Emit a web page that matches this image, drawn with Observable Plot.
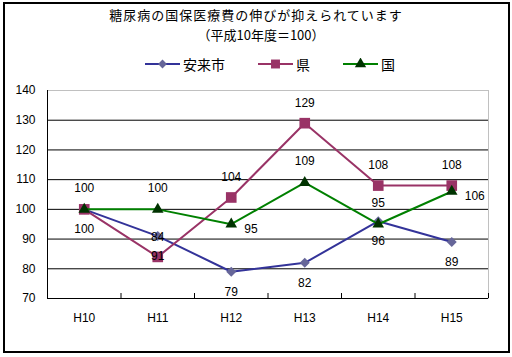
<!DOCTYPE html>
<html><head><meta charset="utf-8">
<script src="https://cdn.jsdelivr.net/npm/d3@7"></script>
<script src="https://cdn.jsdelivr.net/npm/@observablehq/plot@0.6"></script>
<style>
body{margin:0;background:#fff}
#wrap{position:relative;width:512px;height:357px;overflow:hidden;font-family:"Noto Sans CJK JP",sans-serif;color:#000}
#frame{position:absolute;left:3px;top:2px;width:507px;height:351px;border:2px solid #000;box-sizing:border-box;pointer-events:none}
.t{position:absolute;left:0;top:5px;width:512px;text-align:center;font-size:13px;letter-spacing:1px;line-height:19.5px;white-space:nowrap}
.lg{position:absolute;top:57px;height:14px;font-size:14px;line-height:14px;white-space:nowrap}
.sw{position:absolute;top:58px}
#chart{position:absolute;left:0;top:0}
</style></head>
<body>
<div id="wrap">
  <div class="t">糖尿病の国保医療費の伸びが抑えられています<br><span style="padding-left:10px;letter-spacing:0">（平成10年度＝100）</span></div>
  <div id="legend"></div>
  <div id="chart"></div>
  <div id="frame"></div>
</div>
<script>
const years = ["H10", "H11", "H12", "H13", "H14", "H15"];
const yasugi = [100, 91, 79, 82, 96, 89];   // 安来市
const ken = [100, 84, 104, 129, 108, 108];  // 県
const kuni = [100, 100, 95, 109, 95, 106];  // 国
const yTicks = [70, 80, 90, 100, 110, 120, 130, 140];
const seriesNames = ["安来市", "県", "国"];

const rows = vals => vals.map((v, i) => ({i, year: years[i], v}));
const rY = rows(yasugi), rK = rows(ken), rN = rows(kuni);

const blue = "#333399", blueFill = "#666699";
const purple = "#993366";
const green = "#008000", greenFill = "#003300";
const numFont = "Liberation Sans, Arial, sans-serif";

const idx = years.map((_, i) => i);
const bounds = years.map((_, i) => i + 0.5);

const chart = Plot.plot({
  width: 512, height: 357,
  marginLeft: 47, marginRight: 24, marginTop: 90, marginBottom: 59,
  style: {fontFamily: numFont, fontSize: "12px", background: "transparent", overflow: "visible"},
  x: {type: "linear", domain: [-0.5, years.length - 0.5], label: null},
  y: {domain: [yTicks[0], yTicks[yTicks.length - 1]], label: null},
  marks: [
    Plot.frame({stroke: "#808080", strokeDasharray: "1,1"}),
    Plot.ruleY(yTicks.slice(1, -1), {stroke: "#000", strokeWidth: 1}),
    Plot.ruleY([yTicks[0]], {stroke: "#000", strokeWidth: 1}),
    Plot.ruleX([-0.5], {stroke: "#000", strokeWidth: 1}),
    Plot.axisX({ticks: bounds, tickSize: 5, dy: -5, tickFormat: () => "", stroke: "#000"}),
    Plot.axisX({ticks: idx, tickSize: 0, tickPadding: 15, tickFormat: i => years[i], fontSize: 12, fill: "#000"}),
    Plot.axisY({ticks: yTicks, tickSize: 0, tickPadding: 12, fontSize: 12, fill: "#000"}),
    // 安来市
    Plot.line(rY, {x: "i", y: "v", stroke: blue, strokeWidth: 2}),
    Plot.dot(rY, {x: "i", y: "v", symbol: "diamond2", r: 4.5, fill: blueFill, stroke: "none"}),
    // 県
    Plot.line(rK, {x: "i", y: "v", stroke: purple, strokeWidth: 2}),
    Plot.dot(rK, {x: "i", y: "v", symbol: "square", r: 6, fill: purple, stroke: "none"}),
    // 国
    Plot.line(rN, {x: "i", y: "v", stroke: green, strokeWidth: 2}),
    Plot.dot(rN, {x: "i", y: "v", symbol: "triangle", r: 4.3, fill: greenFill, stroke: "none"}),
    // labels
    Plot.text(rY, {x: "i", y: "v", text: d => String(d.v), dy: 20, fill: "#000", fontSize: 12}),
    Plot.text(rK.filter(d => d.i > 0), {x: "i", y: "v", text: d => String(d.v), dy: -20, fill: "#000", fontSize: 12}),
    Plot.text(rN.filter(d => d.i !== 2 && d.i !== 5), {x: "i", y: "v", text: d => String(d.v), dy: -21, fill: "#000", fontSize: 12}),
    Plot.text(rN.filter(d => d.i === 2 || d.i === 5), {x: "i", y: "v", text: d => String(d.v), dx: 13, dy: 5, textAnchor: "start", fill: "#000", fontSize: 12})
  ]
});
document.getElementById("chart").appendChild(chart);

// legend
const legend = document.getElementById("legend");
const items = [
  {name: seriesNames[0], x: 145, line: blue, fill: blueFill, sym: d3.symbolDiamond2, size: 50},
  {name: seriesNames[1], x: 258, line: purple, fill: purple, sym: d3.symbolSquare, size: 80},
  {name: seriesNames[2], x: 343, line: green, fill: greenFill, sym: d3.symbolTriangle, size: 55}
];
for (const it of items) {
  const svg = d3.create("svg").attr("class", "sw").attr("width", 36).attr("height", 14)
    .style("left", it.x + "px");
  svg.append("line").attr("x1", 0).attr("x2", 35).attr("y1", 6).attr("y2", 6)
    .attr("stroke", it.line).attr("stroke-width", 2);
  svg.append("path").attr("d", d3.symbol(it.sym, it.size)()).attr("transform", "translate(17.5,6)")
    .attr("fill", it.fill);
  legend.appendChild(svg.node());
  const s = document.createElement("div");
  s.className = "lg";
  s.style.left = (it.x + 38) + "px";
  s.textContent = it.name;
  legend.appendChild(s);
}
</script>
</body></html>
